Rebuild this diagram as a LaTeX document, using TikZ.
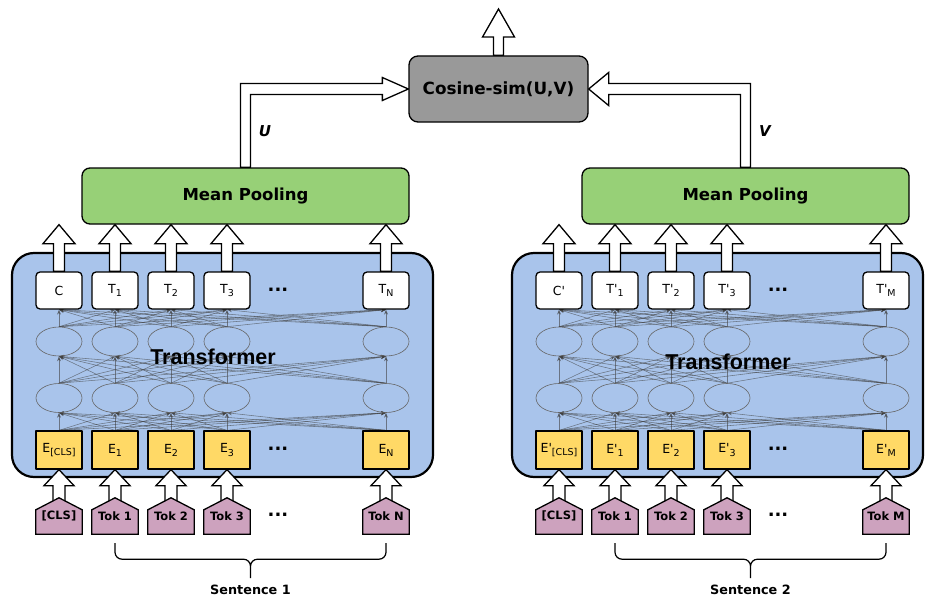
\documentclass[tikz,border=0pt]{standalone}
\usepackage{fontspec}
\setmainfont{DejaVu Sans}
\newfontfamily\arialfont{Liberation Sans}
\usetikzlibrary{shapes.geometric,arrows.meta,calc}
\pgfdeclarelayer{bg}
\pgfdeclarelayer{conn}
\pgfdeclarelayer{shp}
\pgfsetlayers{bg,conn,shp,main}
\definecolor{blockblue}{HTML}{A9C4EB}
\definecolor{poolgreen}{HTML}{97D077}
\definecolor{embyellow}{HTML}{FFD966}
\definecolor{tokpink}{HTML}{CDA2BE}
\definecolor{cosgray}{HTML}{999999}
\newcommand\lsub[1]{\raisebox{-0.45ex}{\fontsize{9.5}{10}\selectfont #1}}
\newcommand\pr{\textquotesingle}
\newcommand\blkuparrow[5]{\draw[barr] let \p1=(#1), \p2=(#2) in
  (\x1-#3,\y1) -- (\x1-#3,\y2-#5) -- (\x1-#4,\y2-#5) -- (\x1,\y2) --
  (\x1+#4,\y2-#5) -- (\x1+#3,\y2-#5) -- (\x1+#3,\y1) -- cycle;}
\tikzset{
  block/.style={draw=black, line width=2.2pt, fill=blockblue, rounded corners=22pt, inner sep=0pt},
  tbox/.style={draw=black, line width=1.3pt, fill=white, rounded corners=4pt, minimum width=46pt, minimum height=37pt, inner sep=0pt, font=\fontsize{12.5}{14}\selectfont},
  ebox/.style={draw=black, line width=1.3pt, fill=embyellow, minimum width=46pt, minimum height=38pt, inner sep=0pt, font=\fontsize{12.5}{14}\selectfont},
  hid/.style={ellipse, draw=black!60, line width=0.6pt, minimum width=46pt, minimum height=29pt, inner sep=0pt},
  tok/.style={minimum width=46pt, minimum height=36pt, inner sep=0pt, font=\bfseries\fontsize{11.5}{13}\selectfont},
  tokshape/.style={draw=black, line width=1.3pt, fill=tokpink, line join=miter},
  pool/.style={draw=black, line width=1.3pt, fill=poolgreen, rounded corners=8pt, minimum width=327pt, minimum height=56pt, inner sep=0pt, font=\bfseries\fontsize{16.5}{19}\selectfont},
  cosbox/.style={draw=black, line width=1.3pt, fill=cosgray, rounded corners=9pt, minimum width=179pt, minimum height=66pt, inner sep=0pt, font=\bfseries\fontsize{16.8}{19}\selectfont},
  barr/.style={draw=black, fill=white, line width=1.3pt, line join=miter},
  link/.style={draw=black!75, opacity=0.6, line width=0.55pt, -{Stealth[length=5pt,width=4pt]}},
  dots/.style={font=\bfseries\fontsize{18}{20}\selectfont, inner sep=0pt},
  lab/.style={font=\bfseries\itshape\fontsize{15}{17}\selectfont},
  sent/.style={font=\bfseries\fontsize{12.8}{15}\selectfont},
  trans/.style={font=\arialfont\bfseries\fontsize{21.5}{24}\selectfont},
  brace/.style={draw=black, line width=1.2pt, rounded corners=7pt}
}
\begin{document}
\begin{tikzpicture}[x=1pt,y=-1pt,line join=round]
\useasboundingbox (0,0) rectangle (925,599);
% transformer blocks
\begin{pgfonlayer}{bg}
  \node[block, minimum width=421pt, minimum height=224pt] (blkL) at (222.5,365) {};
  \node[block, minimum width=411pt, minimum height=224pt] (blkR) at (717.5,365) {};
\end{pgfonlayer}
% top boxes
\foreach \i/\x/\t in {0/59/{C},1/115/{T\lsub{1}},2/171/{T\lsub{2}},3/227/{T\lsub{3}},4/386/{T\lsub{N}}}
  \node[tbox] (TL\i) at (\x,290.5) {\t};
\foreach \i/\x/\t in {0/559/{C\pr},1/615/{T\pr\lsub{1}},2/671/{T\pr\lsub{2}},3/727/{T\pr\lsub{3}},4/886/{T\pr\lsub{M}}}
  \node[tbox] (TR\i) at (\x,290.5) {\t};
% embeddings
\foreach \i/\x/\t in {0/59/{E\lsub{[CLS]}},1/115/{E\lsub{1}},2/171/{E\lsub{2}},3/227/{E\lsub{3}},4/386/{E\lsub{N}}}
  \node[ebox] (EL\i) at (\x,450) {\t};
\foreach \i/\x/\t in {0/559/{E\pr\lsub{[CLS]}},1/615/{E\pr\lsub{1}},2/671/{E\pr\lsub{2}},3/727/{E\pr\lsub{3}},4/886/{E\pr\lsub{M}}}
  \node[ebox] (ER\i) at (\x,450) {\t};
% hidden ellipses
\foreach \s/\o in {L/0,R/500}{
  \foreach \i/\x in {0/59,1/115,2/171,3/227,4/386}{
    \node[hid] (A\s\i) at (\x+\o,341.5) {};
    \node[hid] (B\s\i) at (\x+\o,398) {};
  }
}
% tokens
\foreach \i/\x/\t in {0/59/{[CLS]},1/115/{Tok 1},2/171/{Tok 2},3/227/{Tok 3},4/386/{Tok N}}
  \node[tok] (TkL\i) at (\x,516) {\t};
\foreach \i/\x/\t in {0/559/{[CLS]},1/615/{Tok 1},2/671/{Tok 2},3/727/{Tok 3},4/886/{Tok M}}
  \node[tok] (TkR\i) at (\x,516) {\t};
\begin{pgfonlayer}{shp}
  \foreach \s in {L,R}{
    \foreach \i in {0,...,4}{
      \draw[tokshape] (Tk\s\i.south west) -- ([yshift=-12pt]Tk\s\i.north west) -- (Tk\s\i.north)
        -- ([yshift=-12pt]Tk\s\i.north east) -- (Tk\s\i.south east) -- cycle;
    }
  }
\end{pgfonlayer}
% dots
\foreach \s/\o in {L/0,R/500}{
  \node[dots] (dT\s) at (278+\o,290) {...};
  \node[dots] (dE\s) at (278+\o,449) {...};
  \node[dots] (dK\s) at (278+\o,515) {...};
}
% Transformer labels
\node[trans] (trL) at (213,357) {Transformer};
\node[trans] (trR) at (728,362) {Transformer};
% pooling and cosine
\node[pool] (mpL) at (245.5,196) {Mean Pooling};
\node[pool] (mpR) at (745.5,196) {Mean Pooling};
\node[cosbox] (cos) at (498.5,89) {Cosine-sim(U,V)};
\coordinate (outtop) at (498.5,9);
% connections and arrows
\begin{pgfonlayer}{conn}
  \foreach \s in {L,R}{
    \foreach \i in {0,...,4}{
      \foreach \j in {0,...,4}{
        \draw[link] (E\s\i.north) -- (B\s\j.south);
        \draw[link] (B\s\i.north) -- (A\s\j.south);
        \draw[link] (A\s\i.north) -- (T\s\j.south);
      }
      \blkuparrow{T\s\i.north}{mp\s.south}{5.5pt}{16pt}{19pt}
      \blkuparrow{[yshift=-4pt]Tk\s\i.north}{E\s\i.south}{6pt}{15pt}{16pt}
    }
  }
  \blkuparrow{cos.north}{outtop}{5pt}{16pt}{28pt}
  \draw[barr] let \p1=(mpL.north), \p2=(cos.west) in
    (\x1-5pt,\y1) -- (\x1-5pt,\y2+5.5pt) -- (\x2-26pt,\y2+5.5pt) -- (\x2-26pt,\y2+11.5pt)
    -- (\x2,\y2) -- (\x2-26pt,\y2-11.5pt) -- (\x2-26pt,\y2-5.5pt) -- (\x1+5pt,\y2-5.5pt)
    -- (\x1+5pt,\y1) -- cycle;
  \draw[barr] let \p1=(mpR.north), \p2=(cos.east) in
    (\x1+5pt,\y1) -- (\x1+5pt,\y2+5.5pt) -- (\x2+20pt,\y2+5.5pt) -- (\x2+20pt,\y2+16.5pt)
    -- (\x2,\y2) -- (\x2+20pt,\y2-16.5pt) -- (\x2+20pt,\y2-5.5pt) -- (\x1-5pt,\y2-5.5pt)
    -- (\x1-5pt,\y1) -- cycle;
\end{pgfonlayer}
\node[lab] (labU) at (265,131) {U};
\node[lab] (labV) at (765,131) {V};
% braces
\foreach \s in {L,R}{
  \draw[brace] let \p1=([yshift=-9pt]Tk\s1.south), \p2=([yshift=-9pt]Tk\s4.south),
      \p3=($(\p1)!0.5!(\p2)$) in
    (\p1) -- (\x1,\y1-16pt) -- (\x3,\y1-16pt) -- (\x3,\y1-35pt)
    (\p2) -- (\x2,\y2-16pt) -- (\x3,\y2-16pt) -- (\x3,\y2-35pt);
}
\node[sent] (sentL) at (250.5,590) {Sentence 1};
\node[sent] (sentR) at (750.5,590) {Sentence 2};
\end{tikzpicture}
\end{document}
